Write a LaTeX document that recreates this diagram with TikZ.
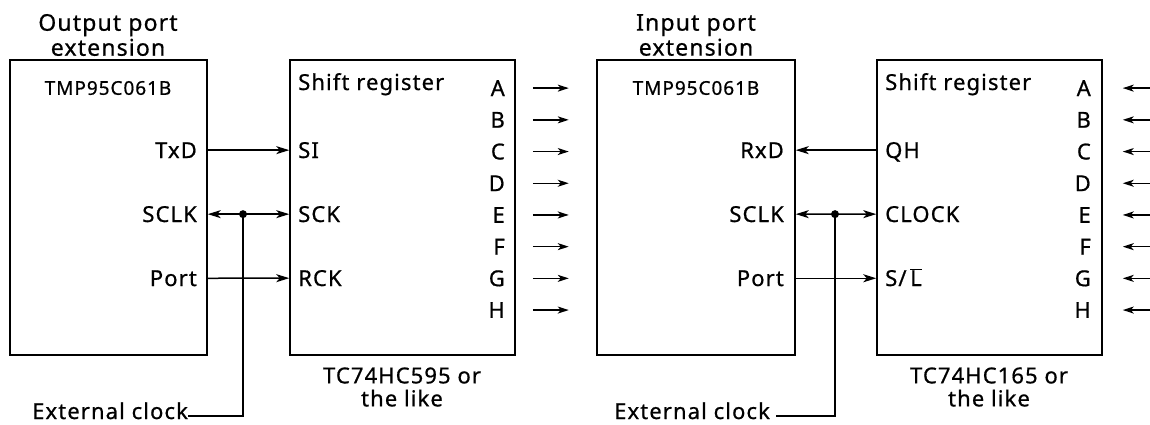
\documentclass[tikz,border=0pt]{standalone}
\usepackage{fontspec}
\setmainfont[LetterSpace=5,FakeBold=0.7]{Noto Sans}
\usetikzlibrary{arrows.meta}
\tikzset{
  chip/.style={draw,line width=1.5pt,minimum width=#1,minimum height=295pt,inner sep=0pt},
  lbl/.style={inner sep=0pt,font=\fontsize{22}{26}\selectfont},
  smalltxt/.style={inner sep=0pt,font=\fontsize{19}{22}\selectfont},
  ttl/.style={inner sep=0pt,align=center,font=\fontsize{23}{25}\selectfont},
  partlbl/.style={inner sep=0pt,align=center,font=\fontsize{22}{23}\selectfont},
  wire/.style={line width=1.5pt},
  sig/.style={line width=1.5pt,-{Stealth[length=13pt,width=8pt,inset=3.5pt]}},
  bsig/.style={line width=1.5pt,{Stealth[length=13pt,width=8pt,inset=3.5pt]}-{Stealth[length=13pt,width=8pt,inset=3.5pt]}},
  outarr/.style={line width=1.5pt,-{Stealth[length=11pt,width=7pt,inset=3pt]}},
  jdot/.style={circle,fill,inner sep=0pt,minimum size=8pt},
}
\begin{document}
\begin{tikzpicture}[x=1pt,y=-1pt]
\useasboundingbox (0,0) rectangle (1150,424);
% boxes
\node[chip=197pt] (mcu1) at (108.5,207.5) {};
\node[chip=225pt] (sr1) at (402.5,207.5) {};
\node[chip=198pt] (mcu2) at (696,207.5) {};
\node[chip=225pt] (sr2) at (989.5,207.5) {};
% titles
\node[ttl] (t1) at (108,35) {Output port\\extension};
\node[ttl] (t2) at (696,35) {Input port\\extension};
\node[smalltxt] (m1) at (108,88) {TMP95C061B};
\node[smalltxt] (m2) at (696,88) {TMP95C061B};
\node[lbl,anchor=base west] (s1) at (298,90) {Shift register};
\node[lbl,anchor=base west] (s2) at (885,90) {Shift register};
% pin letters
\foreach \l [count=\i from 0] in {A,B,C,D,E,F,G,H}{
  \node[lbl,anchor=base east] (a\l) at (505,{96+31.7*\i}) {\l};
  \node[lbl,anchor=base east] (b\l) at (1091,{96+31.7*\i}) {\l};
  \draw[outarr] ([xshift=17pt]sr1.east |- a\l) -- ++(36,0);
  \draw[outarr] (1150,0 |- b\l) -- ([xshift=20pt]sr2.east |- b\l);
}
% left side labels
\node[lbl,anchor=base east] (txd) at (197,158) {TxD};
\node[lbl,anchor=base east] (sclk1) at (197,222) {SCLK};
\node[lbl,anchor=base east] (port1) at (197,286) {Port};
\node[lbl,anchor=base west] (si) at (298,158) {SI};
\node[lbl,anchor=base west] (sck) at (298,222) {SCK};
\node[lbl,anchor=base west] (rck) at (298,286) {RCK};
\draw[sig] (mcu1.east |- txd) -- (sr1.west |- si);
\draw[bsig] (mcu1.east |- sclk1) -- (sr1.west |- sck);
\draw[sig] (mcu1.east |- port1) -- (sr1.west |- rck);
\node[jdot] (j1) at (243,0 |- sck) {};
% right side labels
\node[lbl,anchor=base east] (rxd) at (784,158) {RxD};
\node[lbl,anchor=base east] (sclk2) at (784,222) {SCLK};
\node[lbl,anchor=base east] (port2) at (784,286) {Port};
\node[lbl,anchor=base west] (qh) at (885,158) {QH};
\node[lbl,anchor=base west] (clk) at (885,222) {CLOCK};
\node[lbl,anchor=base west] (sl) at (885,286) {S/\,$\overline{\mbox{L}}$};
\draw[sig] (sr2.west |- rxd) -- (mcu2.east |- rxd);
\draw[bsig] (mcu2.east |- sclk2) -- (sr2.west |- clk);
\draw[sig] (mcu2.east |- port2) -- (sr2.west |- port2);
\node[jdot] (j2) at (835,0 |- clk) {};
% external clocks
\node[lbl,anchor=base west] (e1) at (32,419) {External clock};
\node[lbl,anchor=base west] (e2) at (614,419) {External clock};
\coordinate (c1) at (243,416);
\coordinate (c2) at (835,416);
\draw[wire] (j1.center) -- (c1) -- (e1.east |- c1);
\draw[wire] (j2.center) -- (c2) -- ([xshift=6pt]e2.east |- c2);
% part names
\node[partlbl] (p1) at (402,387) {TC74HC595 or\\the like};
\node[partlbl] (p2) at (989,387) {TC74HC165 or\\the like};
\end{tikzpicture}
\end{document}
